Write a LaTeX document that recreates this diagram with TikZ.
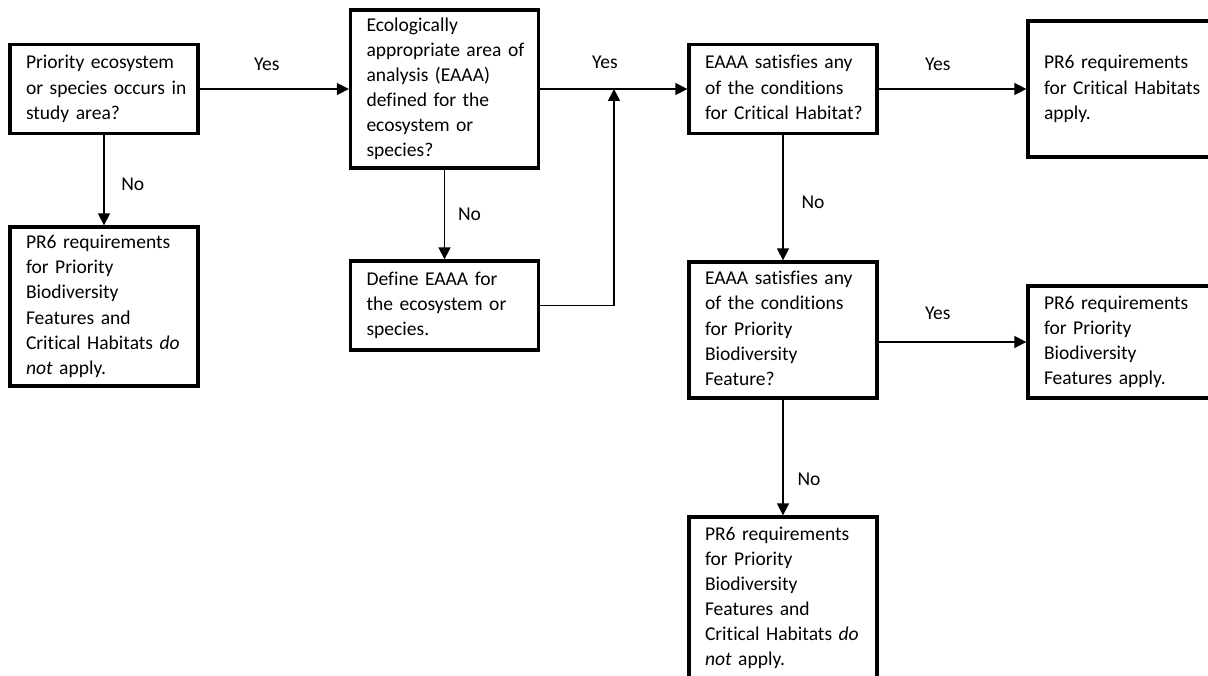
\documentclass[tikz,border=0pt]{standalone}
\usepackage{fontspec}
\setmainfont{Carlito}[Ligatures=NoCommon]
\usepackage{tikz}
\usetikzlibrary{arrows.meta}
\newcommand{\boxlines}[1]{\begin{tabular}{@{}l@{}}#1\end{tabular}}

\begin{document}
\begin{tikzpicture}[
  x=1cm,y=1cm,
  font=\fontsize{13.9pt}{17.8pt}\selectfont,
  flow/.style={-{Triangle[length=3mm,width=3mm]},draw=black,line width=1.2pt},
  box/.style={draw=black,line width=2.4pt,align=left,text width=3.9cm,
    inner xsep=0.4cm,inner ysep=0pt},
  lbl/.style={inner sep=0pt}
]
  \useasboundingbox (0,0) rectangle (30.2,16.875);
  \clip (0,0) rectangle (30.2,16.875);

  % top row
  \node[box,minimum height=2.225cm] (occurs) at (2.6,14.65)
    {\boxlines{Priority ecosystem\\or species occurs in\\study area?}};
  \node[box,minimum height=3.95cm] (eaaa) at (11.1125,14.65)
    {\boxlines{Ecologically\\appropriate area of\\analysis (EAAA)\\defined for the\\ecosystem or\\species?}};
  \node[box,minimum height=2.225cm] (chcheck) at (19.575,14.65)
    {\boxlines{EAAA satisfies any\\of the conditions\\for Critical Habitat?}};
  \node[box,minimum height=3.4cm] (chreq) at (28.05,14.65)
    {\boxlines{PR6 requirements\\for Critical Habitats\\apply.}};

  % second row
  \node[box,minimum height=3.975cm] (noreqa) at (2.6,9.2125)
    {\boxlines{PR6 requirements\\for Priority\\Biodiversity\\Features and\\Critical Habitats \textit{do}\\\textit{not} apply.}};
  \node[box,minimum height=2.225cm] (define) at (11.1125,9.2375)
    {\boxlines{Define EAAA for\\the ecosystem or\\species.}};
  \node[box,minimum height=3.4cm] (pbfcheck) at (19.575,8.625)
    {\boxlines{EAAA satisfies any\\of the conditions\\for Priority\\Biodiversity\\Feature?}};
  \node[box,minimum height=2.8cm] (pbfreq) at (28.05,8.325)
    {\boxlines{PR6 requirements\\for Priority\\Biodiversity\\Features apply.}};

  % bottom
  \node[box,minimum height=4.05cm] (noreqb) at (19.575,1.925)
    {\boxlines{PR6 requirements\\for Priority\\Biodiversity\\Features and\\Critical Habitats \textit{do}\\\textit{not} apply.}};

  % yes branches
  \draw[flow] (occurs.east) -- node[lbl,pos=0.45,yshift=0.625cm] (yesa) {Yes}
    (eaaa.west);
  \draw[flow] (eaaa.east) -- node[lbl,pos=0.44,yshift=0.675cm] (yesb) {Yes}
    (chcheck.west);
  \draw[flow] (chcheck.east) -- node[lbl,pos=0.4,yshift=0.625cm] (yesc) {Yes}
    (chreq.west);
  \draw[flow] (pbfcheck.east |- pbfreq.west) --
    node[lbl,pos=0.4,yshift=0.725cm] (yesd) {Yes} (pbfreq.west);

  % no branches
  \draw[flow] (occurs.south) -- node[lbl,pos=0.54,xshift=0.72cm] (noa) {No}
    (noreqa.north);
  \draw[flow] (eaaa.south) -- node[lbl,pos=0.5,xshift=0.625cm] (nob) {No}
    (define.north);
  \draw[flow] (chcheck.south) -- node[lbl,pos=0.54,xshift=0.75cm] (noc) {No}
    (pbfcheck.north);
  \draw[flow] (pbfcheck.south) -- node[lbl,pos=0.69,xshift=0.65cm] (nod) {No}
    (noreqb.north);

  % back into the main line
  \coordinate (join) at (15.35,14.65);
  \draw[flow] (define.east) -| (join);
\end{tikzpicture}
\end{document}
